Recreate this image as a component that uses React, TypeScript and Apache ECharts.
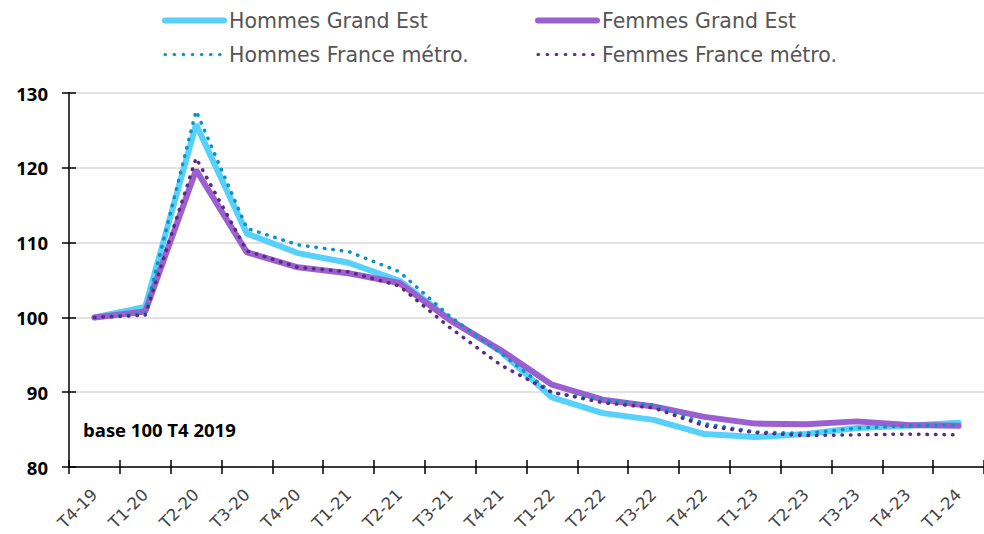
import React, { useEffect, useRef } from "react";
import * as echarts from "echarts";

const categories = ["T4-19","T1-20","T2-20","T3-20","T4-20","T1-21","T2-21","T3-21","T4-21","T1-22","T2-22","T3-22","T4-22","T1-23","T2-23","T3-23","T4-23","T1-24"];
const hommesGE = [100, 101.4, 125.8, 111.2, 108.6, 107.3, 104.9, 99.7, 95.4, 89.3, 87.2, 86.3, 84.4, 84.0, 84.4, 85.2, 85.5, 85.9];
const femmesGE = [100, 100.8, 119.7, 108.7, 106.7, 105.9, 104.6, 99.6, 95.6, 91.0, 89.0, 88.1, 86.7, 85.8, 85.7, 86.1, 85.6, 85.5];
const hommesFR = [100, 100.6, 127.6, 111.9, 109.7, 108.8, 106.1, 100.1, 95.2, 89.9, 89.0, 88.3, 85.8, 84.7, 84.5, 85.2, 85.5, 85.6];
const femmesFR = [100, 100.3, 121.3, 108.9, 106.7, 106.1, 104.2, 98.6, 93.6, 90.0, 88.6, 87.9, 85.5, 84.6, 84.2, 84.3, 84.4, 84.3];
const yTicks = { min: 80, max: 130, interval: 10 };
const note = "base 100 T4 2019";

const names = ["Hommes Grand Est", "Femmes Grand Est", "Hommes France métro.", "Femmes France métro."];
const colors = ["#57d0fa", "#9b5fcf", "#0a94c4", "#5b2a82"];

export default function App() {
  const ref = useRef<HTMLDivElement>(null);
  useEffect(() => {
    if (!ref.current) return;
    const chart = echarts.init(ref.current, null, { renderer: "svg" });
    const dotted = (color: string) => ({
      color,
      width: 3.5,
      type: [0.5, 8] as number[],
      cap: "round" as const,
    });
    const solid = (color: string) => ({ color, width: 6, cap: "round" as const });
    const legendDotted = (color: string) => ({
      color,
      width: 3.2,
      type: [0.5, 8.6] as number[],
      cap: "round" as const,
    });
    const legendText = { fontFamily: "DejaVu Sans", fontSize: 20.5, lineHeight: 20, color: "#555" };
    const legendBase = {
      orient: "vertical",
      top: 10,
      itemWidth: 59,
      itemHeight: 14,
      itemGap: 13,
      padding: 0,
      textStyle: legendText,
      itemStyle: { opacity: 0 },
    };
    chart.setOption({
      animation: false,
      backgroundColor: "#fff",
      textStyle: { fontFamily: "DejaVu Sans" },
      legend: [
        {
          ...legendBase,
          left: 162,
          data: [
            { name: names[0], lineStyle: solid(colors[0]) },
            { name: names[2], lineStyle: legendDotted(colors[2]) },
          ],
        },
        {
          ...legendBase,
          left: 535,
          data: [
            { name: names[1], lineStyle: solid(colors[1]) },
            { name: names[3], lineStyle: legendDotted(colors[3]) },
          ],
        },
      ],
      grid: { left: 69, right: -14, top: 93, bottom: 67, containLabel: false },
      xAxis: [
        {
          type: "category",
          data: categories,
          boundaryGap: true,
          axisLine: { show: true, lineStyle: { color: "#000", width: 1.5 } },
          axisTick: { show: true, length: 7, lineStyle: { color: "#000", width: 1.5 } },
          axisLabel: {
            rotate: 45,
            margin: 25,
            fontSize: 16.5,
            color: "#444",
            fontFamily: "DejaVu Sans",
            interval: 0,
          },
          splitLine: { show: false },
        },
        {
          type: "category",
          data: categories,
          boundaryGap: true,
          position: "bottom",
          axisLine: { show: false },
          axisTick: { show: true, inside: true, length: 7, lineStyle: { color: "#000", width: 1.5 } },
          axisLabel: { show: false },
          splitLine: { show: false },
        },
      ],
      yAxis: [
        {
          type: "value",
          min: yTicks.min,
          max: yTicks.max,
          interval: yTicks.interval,
          axisLine: { show: true, lineStyle: { color: "#000", width: 1.5 } },
          axisTick: { show: true, length: 7, lineStyle: { color: "#000", width: 1.5 } },
          axisLabel: { margin: 21, fontSize: 18.5, fontWeight: "bold", color: "#000", fontFamily: "Open Sans" },
          splitLine: { show: true, lineStyle: { color: "#d9d9d9", width: 1.5 } },
        },
        {
          type: "value",
          min: yTicks.min,
          max: yTicks.max,
          interval: yTicks.interval,
          position: "left",
          axisLine: { show: false },
          axisTick: { show: true, inside: true, length: 7, lineStyle: { color: "#000", width: 1.5 } },
          axisLabel: { show: false },
          splitLine: { show: false },
        },
      ],
      graphic: [
        {
          type: "text",
          left: 83,
          top: 420,
          style: { text: note, fontSize: 18.5, fontWeight: "bold", fill: "#000", fontFamily: "Open Sans" },
        },
      ],
      series: [
        { name: names[0], type: "line", data: hommesGE, symbol: "none", color: colors[0], lineStyle: solid(colors[0]) },
        { name: names[1], type: "line", data: femmesGE, symbol: "none", color: colors[1], lineStyle: solid(colors[1]) },
        { name: names[2], type: "line", data: hommesFR, symbol: "none", color: colors[2], lineStyle: dotted(colors[2]) },
        { name: names[3], type: "line", data: femmesFR, symbol: "none", color: colors[3], lineStyle: dotted(colors[3]) },
      ],
    });
    return () => chart.dispose();
  }, []);
  return <div ref={ref} style={{ width: 984, height: 534, position: "absolute", left: 0, top: 0 }} />;
}
